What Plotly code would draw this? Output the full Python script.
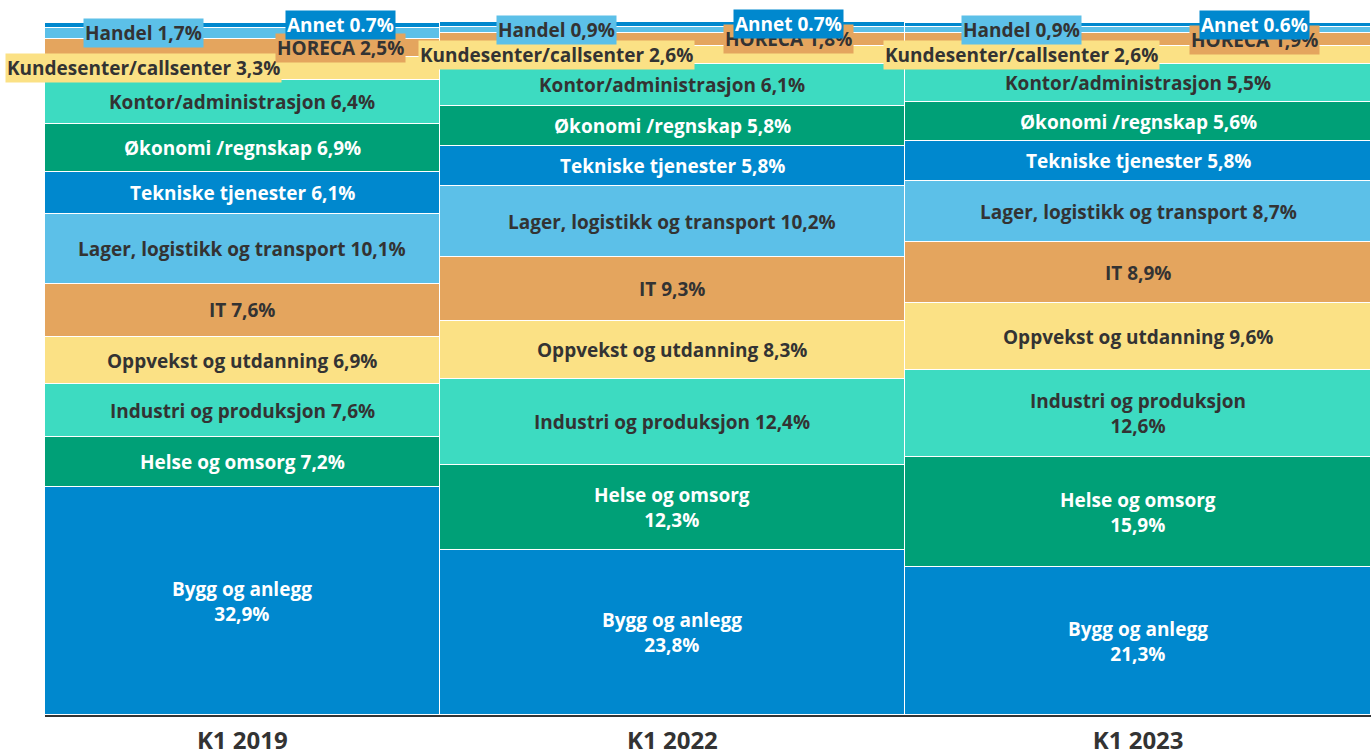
import plotly.graph_objects as go

# Data: andel (%) per bransje, nederst til øverst i stabelen
kolonner = ["K1 2019", "K1 2022", "K1 2023"]
kolonne_vekt = [394, 465, 465]  # relativ bredde på kolonnene

bransjer = [
    "Bygg og anlegg", "Helse og omsorg", "Industri og produksjon",
    "Oppvekst og utdanning", "IT", "Lager, logistikk og transport",
    "Tekniske tjenester", "Økonomi /regnskap", "Kontor/administrasjon",
    "Kundesenter/callsenter", "HORECA", "Handel", "Annet",
]
k1_2019 = [32.9, 7.2, 7.6, 6.9, 7.6, 10.1, 6.1, 6.9, 6.4, 3.3, 2.5, 1.7, 0.7]
k1_2022 = [23.8, 12.3, 12.4, 8.3, 9.3, 10.2, 5.8, 5.8, 6.1, 2.6, 1.8, 0.9, 0.7]
k1_2023 = [21.3, 15.9, 12.6, 9.6, 8.9, 8.7, 5.8, 5.6, 5.5, 2.6, 1.9, 0.9, 0.6]
verdier = [k1_2019, k1_2022, k1_2023]

# etiketter som brytes over to linjer: (bransje-indeks, kolonne-indeks)
linjeskift = {(0, 0), (0, 1), (1, 1), (0, 2), (1, 2), (2, 2)}

blaa = "#0088CE"
gronn = "#00A077"
turkis = "#3DDBC1"
gul = "#FBE185"
oransje = "#E4A55E"
lyseblaa = "#5CC0E8"
farger = [blaa, gronn, turkis, gul, oransje, lyseblaa,
          blaa, gronn, turkis, gul, oransje, lyseblaa, blaa]
tekstfarge = ["white", "white", "#333333", "#333333", "#333333", "#333333",
              "white", "white", "#333333", "#333333", "#333333", "#333333", "white"]

font = "Open Sans"

starts = []
s = 0
for w in kolonne_vekt:
    starts.append(s)
    s += w
total_bredde = s
senter = [st + w / 2 for st, w in zip(starts, kolonne_vekt)]

fig = go.Figure()
for i, navn in enumerate(bransjer):
    fig.add_trace(go.Bar(
        x=senter,
        y=[v[i] for v in verdier],
        width=kolonne_vekt,
        name=navn,
        marker=dict(color=farger[i], line=dict(color="white", width=1.5)),
        hoverinfo="name+y",
    ))

# etiketter
annotations = []
for k, v in enumerate(verdier):
    bunn = 0
    for i, verdi in enumerate(v):
        midt = bunn + verdi / 2
        bunn += verdi
        sep = "." if bransjer[i] == "Annet" else ","
        tall = f"{verdi:.1f}".replace(".", sep) + "%"
        if (i, k) in linjeskift:
            tekst = f"{bransjer[i]}<br>{tall}"
        else:
            tekst = f"{bransjer[i]} {tall}"
        x = senter[k]
        bg = None
        if i >= 9:
            andel = 0.25 if i in (9, 11) else 0.75
            x = starts[k] + andel * kolonne_vekt[k]
            bg = farger[i]
        annotations.append(dict(
            x=x, y=midt, xref="x", yref="y", text=tekst, showarrow=False,
            font=dict(family=font, size=19, color=tekstfarge[i], weight="bold"),
            bgcolor=bg, borderpad=1, align="center",
        ))

fig.update_layout(
    barmode="stack",
    bargap=0,
    showlegend=False,
    width=1371,
    height=752,
    margin=dict(l=45, r=0, t=22, b=37),
    plot_bgcolor="white",
    paper_bgcolor="white",
    annotations=annotations,
)
fig.update_xaxes(
    range=[0, total_bredde], tickvals=senter, ticktext=kolonner,
    showgrid=False, zeroline=False, showline=True, linecolor="#333333",
    linewidth=2, ticks="", automargin=False, ticklabelstandoff=3,
    tickfont=dict(family=font, size=24, color="#333333", weight="bold"),
)
fig.update_yaxes(range=[0, 100], visible=False, showgrid=False)

fig.write_html("out.html", config={"displayModeBar": False},
               post_script="document.body.style.margin='0';")
